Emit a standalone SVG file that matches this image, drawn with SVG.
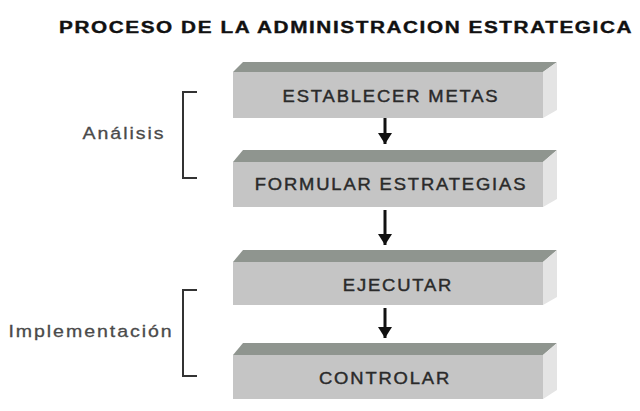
<svg xmlns="http://www.w3.org/2000/svg" width="640" height="411" viewBox="0 0 640 411">
<defs>
<style>
.top{fill:#8f958f}
.front{fill:#c5c5c5}
.side{fill:#e4e4e4}
.lbl{font-family:"Liberation Sans",Arial,sans-serif;font-size:16px;letter-spacing:1.6px;fill:#2a2a2a;stroke:#2a2a2a;stroke-width:0.4;text-anchor:middle;dominant-baseline:central}
.side-lbl{font-family:"Liberation Sans",Arial,sans-serif;font-size:17px;letter-spacing:1.7px;fill:#4a4a4a;stroke:#4a4a4a;stroke-width:0.3;text-anchor:middle;dominant-baseline:central}
.title{font-family:"Liberation Sans",Arial,sans-serif;font-size:17px;font-weight:bold;letter-spacing:1.3px;fill:#111;stroke:#111;stroke-width:0.4;text-anchor:middle;dominant-baseline:central}
.br{fill:none;stroke:#333;stroke-width:2}
.shaft{stroke:#111;stroke-width:3}
</style>
<marker id="ah" viewBox="0 0 11 14" refX="11" refY="7" markerWidth="11" markerHeight="14" markerUnits="userSpaceOnUse" orient="auto">
<path d="M0,0 L11,7 L0,14 Z" fill="#111"/>
</marker>
</defs>
<rect width="640" height="411" fill="#fff"/>
<text class="title" transform="matrix(1.22 0 0 1 346 27)">PROCESO DE LA ADMINISTRACION ESTRATEGICA</text>

<g id="n1">
<polygon class="top" points="233,72 243,62 557,62 543,72"/>
<polygon class="side" points="543,72 557,62 557,110 543,118"/>
<rect class="front" x="233" y="72" width="310" height="46"/>
<text class="lbl" transform="matrix(1.15 0 0 1 391 96)">ESTABLECER METAS</text>
</g>
<g id="n2">
<polygon class="top" points="233,162 243,150 557,150 543,162"/>
<polygon class="side" points="543,162 557,150 557,199 543,207"/>
<rect class="front" x="233" y="162" width="310" height="45"/>
<text class="lbl" transform="matrix(1.15 0 0 1 391 184)">FORMULAR ESTRATEGIAS</text>
</g>
<g id="n3">
<polygon class="top" points="233,262 243,250 557,250 543,262"/>
<polygon class="side" points="543,262 557,250 557,297 543,305"/>
<rect class="front" x="233" y="262" width="310" height="43"/>
<text class="lbl" transform="matrix(1.15 0 0 1 398 285)">EJECUTAR</text>
</g>
<g id="n4">
<polygon class="top" points="233,355 243,343 557,343 543,355"/>
<polygon class="side" points="543,355 557,343 557,390 543,399"/>
<rect class="front" x="233" y="355" width="310" height="44"/>
<text class="lbl" transform="matrix(1.15 0 0 1 385 378)">CONTROLAR</text>
</g>

<g id="g-analisis">
<path class="br" d="M197,92 H183 V178 H197"/>
<text class="side-lbl" transform="matrix(1.15 0 0 1 124 133)">Análisis</text>
</g>
<g id="g-implementacion">
<path class="br" d="M197,290 H183 V376 H197"/>
<text class="side-lbl" transform="matrix(1.15 0 0 1 91 331)">Implementación</text>
</g>

<g id="connectors">
<line class="shaft" x1="385" y1="118" x2="385" y2="144" marker-end="url(#ah)"/>
<line class="shaft" x1="385" y1="210" x2="385" y2="245" marker-end="url(#ah)"/>
<line class="shaft" x1="385" y1="308" x2="385" y2="338" marker-end="url(#ah)"/>
</g>
</svg>
